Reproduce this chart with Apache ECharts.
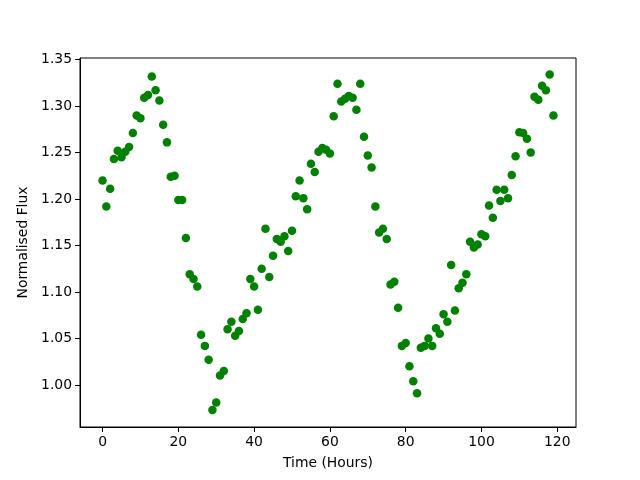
<!DOCTYPE html>
<html>
<head>
<meta charset="utf-8">
<script src="https://cdn.jsdelivr.net/npm/echarts@6/dist/echarts.min.js"></script>
<style>
  html, body { margin: 0; padding: 0; background: #fff; }
  #chart { width: 640px; height: 480px; }
</style>
</head>
<body>
<div id="chart"></div>
<script>
// hours 0..119
var hours = [];
for (var h = 0; h < 120; h++) hours.push(h);

// normalised flux
var flux = [
  1.220, 1.192, 1.211, 1.243, 1.252, 1.245, 1.251, 1.256, 1.271, 1.290,
  1.287, 1.309, 1.312, 1.332, 1.317, 1.306, 1.280, 1.261, 1.224, 1.225,
  1.199, 1.199, 1.158, 1.119, 1.114, 1.106, 1.054, 1.042, 1.027, 0.973,
  0.981, 1.010, 1.015, 1.060, 1.068, 1.053, 1.058, 1.071, 1.077, 1.114,
  1.106, 1.081, 1.125, 1.168, 1.116, 1.139, 1.157, 1.154, 1.160, 1.144,
  1.166, 1.203, 1.220, 1.201, 1.189, 1.238, 1.229, 1.251, 1.255, 1.253,
  1.249, 1.289, 1.324, 1.305, 1.308, 1.311, 1.309, 1.296, 1.324, 1.267,
  1.247, 1.234, 1.192, 1.164, 1.168, 1.157, 1.108, 1.111, 1.083, 1.042,
  1.045, 1.020, 1.004, 0.991, 1.040, 1.042, 1.050, 1.042, 1.061, 1.055,
  1.076, 1.068, 1.129, 1.080, 1.104, 1.110, 1.119, 1.154, 1.148, 1.151,
  1.162, 1.160, 1.193, 1.180, 1.210, 1.198, 1.210, 1.201, 1.226, 1.246,
  1.272, 1.271, 1.265, 1.250, 1.310, 1.307, 1.322, 1.317, 1.334, 1.290
];

var xTicks = [0, 20, 40, 60, 80, 100, 120];
var yTicks = [1.00, 1.05, 1.10, 1.15, 1.20, 1.25, 1.30, 1.35];

var chart = echarts.init(document.getElementById('chart'));

var points = hours.map(function (t, i) { return [t, flux[i]]; });

var font = 'DejaVu Sans';
var option = {
  animation: false,
  grid: {
    left: 80, right: 64, top: 58, bottom: 53,
    show: true, borderColor: '#000', borderWidth: 1
  },
  xAxis: {
    type: 'value',
    min: -5.95, max: 124.95,
    name: 'Time (Hours)',
    nameLocation: 'middle',
    nameGap: 29,
    nameTextStyle: { fontFamily: font, fontSize: 13.9, color: '#000' },
    axisLine: { show: true, onZero: false, lineStyle: { color: '#000', width: 1 } },
    axisTick: { show: true, inside: false, length: 5, customValues: xTicks, lineStyle: { color: '#000' } },
    axisLabel: { customValues: xTicks, margin: 8, fontFamily: font, fontSize: 13.9, color: '#000' },
    splitLine: { show: false }
  },
  yAxis: {
    type: 'value',
    min: 0.9547, max: 1.3518,
    name: 'Normalised Flux',
    nameLocation: 'middle',
    nameGap: 44,
    nameTextStyle: { fontFamily: font, fontSize: 13.9, color: '#000' },
    axisLine: { show: true, onZero: false, lineStyle: { color: '#000', width: 1 } },
    axisTick: { show: true, inside: false, length: 5, customValues: yTicks, lineStyle: { color: '#000' } },
    axisLabel: {
      customValues: yTicks, margin: 8, fontFamily: font, fontSize: 13.9, color: '#000',
      formatter: function (v) { return v.toFixed(2); }
    },
    splitLine: { show: false }
  },
  series: [{
    type: 'scatter',
    data: points,
    symbolSize: 8.5,
    itemStyle: { color: '#008000', opacity: 1 }
  }]
};

chart.setOption(option);
window.addEventListener('resize', function () { chart.resize(); });
</script>
</body>
</html>
